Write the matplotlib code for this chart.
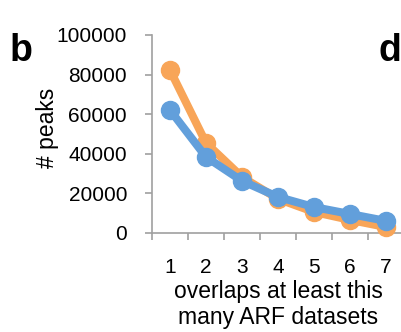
import matplotlib
matplotlib.use("Agg")
import matplotlib.pyplot as plt
from matplotlib.ticker import FixedLocator, NullFormatter, FixedFormatter

plt.rcParams['font.family'] = ['Liberation Sans', 'DejaVu Sans']

# values
overlaps = [1, 2, 3, 4, 5, 6, 7]
orange_peaks = [82300, 45500, 28300, 17200, 10600, 6600, 3000]
blue_peaks = [62100, 38400, 26300, 18200, 13100, 9600, 6100]
y_ticks = [0, 20000, 40000, 60000, 80000, 100000]

fig = plt.figure(figsize=(4.01, 3.32), dpi=100)
ax = fig.add_axes([152 / 401, 1 - 233 / 332, 252 / 401, 198 / 332])

ax.plot(overlaps, orange_peaks, color='#F8A558', lw=5.8, marker='o', ms=13,
        clip_on=False, zorder=3)
ax.plot(overlaps, blue_peaks, color='#629FDB', lw=5.8, marker='o', ms=13,
        clip_on=False, zorder=4)

ax.set_xlim(0.5, 7.5)
ax.set_ylim(0, 100000)
ax.set_yticks(y_ticks)
ax.set_yticklabels([str(v) for v in y_ticks])

# category axis: ticks between categories, labels at centres
ax.xaxis.set_major_locator(FixedLocator([i + 0.5 for i in range(0, 8)]))
ax.xaxis.set_major_formatter(NullFormatter())
ax.xaxis.set_minor_locator(FixedLocator(overlaps))
ax.xaxis.set_minor_formatter(FixedFormatter([str(v) for v in overlaps]))
ax.tick_params(axis='x', which='minor', length=0, pad=18, labelsize=15)
ax.tick_params(axis='x', which='major', length=5, width=1.2, color='#A0A0A0')
ax.tick_params(axis='y', length=5, width=1.2, color='#A0A0A0', pad=13,
               labelsize=15)

for s in ['top', 'right']:
    ax.spines[s].set_visible(False)
for s in ['left', 'bottom']:
    ax.spines[s].set_color('#A0A0A0')
    ax.spines[s].set_linewidth(1.2)

ax.set_ylabel('# peaks', fontsize=16.5, labelpad=-2)
ax.yaxis.label.set_y(0.53)
ax.set_xlabel('overlaps at least this\nmany ARF datasets', fontsize=16.5,
              labelpad=2.5, linespacing=1.12)

fig.text(10 / 401, 1 - 51 / 332, 'b', fontsize=27, fontweight='bold',
         va='center', ha='left')
fig.text(379 / 401, 1 - 51 / 332, 'd', fontsize=27, fontweight='bold',
         va='center', ha='left')

fig.savefig('out.png', dpi=100)
